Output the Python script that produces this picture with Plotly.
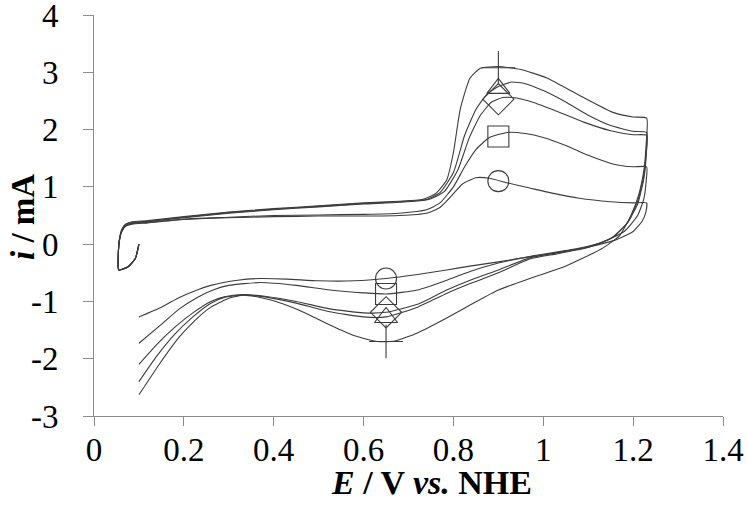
import plotly.graph_objects as go

# ---- data (E in V vs NHE, i in mA) ----
circle_E = [0.1, 0.092, 0.075, 0.055, 0.054, 0.057, 0.062, 0.07, 0.085, 0.12, 0.2, 0.3, 0.4, 0.5, 0.6, 0.68, 0.74, 0.77, 0.8, 0.82, 0.85, 0.88, 0.92, 0.97, 1.02, 1.08, 1.15, 1.2, 1.23,
            1.228, 1.22, 1.2, 1.16, 1.1, 1.04, 0.97, 0.9, 0.84, 0.785, 0.72, 0.65, 0.58, 0.5, 0.43, 0.37, 0.32, 0.26, 0.22, 0.19, 0.15, 0.1]
circle_I = [0.0, -0.25, -0.4, -0.45, -0.2, 0.08, 0.22, 0.31, 0.35, 0.37, 0.43, 0.46, 0.48, 0.49, 0.49, 0.5, 0.54, 0.64, 0.88, 1.05, 1.16, 1.15, 1.07, 0.98, 0.89, 0.8, 0.74, 0.72, 0.72,
            0.55, 0.4, 0.22, 0.07, -0.05, -0.14, -0.22, -0.31, -0.38, -0.45, -0.53, -0.6, -0.64, -0.64, -0.61, -0.6, -0.63, -0.72, -0.83, -0.93, -1.1, -1.27]

square_E = [0.1, 0.092, 0.075, 0.055, 0.054, 0.057, 0.062, 0.07, 0.085, 0.12, 0.2, 0.3, 0.4, 0.5, 0.6, 0.68, 0.74, 0.77, 0.8, 0.825, 0.85, 0.88, 0.92, 0.96, 1.0, 1.05, 1.1, 1.155, 1.2, 1.23,
            1.229, 1.224, 1.21, 1.18, 1.13, 1.06, 0.98, 0.9, 0.84, 0.785, 0.72, 0.65, 0.6, 0.525, 0.45, 0.37, 0.3, 0.265, 0.23, 0.19, 0.15, 0.1]
square_I = [0.0, -0.25, -0.4, -0.45, -0.2, 0.08, 0.23, 0.32, 0.36, 0.38, 0.44, 0.47, 0.5, 0.51, 0.52, 0.54, 0.6, 0.72, 1.0, 1.35, 1.65, 1.86, 1.95, 1.93, 1.86, 1.72, 1.55, 1.4, 1.35, 1.35,
            1.1, 0.8, 0.5, 0.22, 0.03, -0.1, -0.2, -0.33, -0.47, -0.63, -0.8, -0.87, -0.85, -0.8, -0.72, -0.67, -0.72, -0.8, -0.93, -1.13, -1.4, -1.73]

triangle_E = [0.1, 0.092, 0.075, 0.055, 0.054, 0.057, 0.062, 0.07, 0.085, 0.12, 0.2, 0.3, 0.4, 0.5, 0.6, 0.68, 0.74, 0.77, 0.8, 0.825, 0.85, 0.875, 0.9, 0.93, 0.96, 1.0, 1.05, 1.1, 1.15, 1.2, 1.23,
              1.229, 1.224, 1.21, 1.19, 1.155, 1.1, 1.03, 0.97, 0.9, 0.84, 0.785, 0.72, 0.65, 0.6, 0.525, 0.45, 0.38, 0.33, 0.29, 0.26, 0.22, 0.18, 0.14, 0.1]
triangle_I = [0.0, -0.25, -0.4, -0.45, -0.2, 0.1, 0.25, 0.34, 0.38, 0.4, 0.47, 0.55, 0.61, 0.66, 0.71, 0.74, 0.78, 0.9, 1.25, 1.9, 2.35, 2.62, 2.75, 2.83, 2.8, 2.68, 2.48, 2.25, 2.07, 1.97, 1.95,
              1.6, 1.2, 0.75, 0.4, 0.12, -0.06, -0.17, -0.26, -0.5, -0.68, -0.86, -1.1, -1.27, -1.27, -1.18, -1.03, -0.92, -0.89, -0.93, -1.03, -1.27, -1.57, -1.95, -2.4]

diamond_E = [0.1, 0.092, 0.075, 0.055, 0.054, 0.057, 0.062, 0.07, 0.085, 0.12, 0.2, 0.3, 0.4, 0.5, 0.6, 0.68, 0.745, 0.78, 0.81, 0.835, 0.86, 0.885, 0.91, 0.94, 0.98, 1.03, 1.09, 1.15, 1.2, 1.23,
             1.229, 1.224, 1.21, 1.185, 1.15, 1.1, 1.03, 0.97, 0.9, 0.84, 0.785, 0.72, 0.65, 0.6, 0.525, 0.45, 0.38, 0.33, 0.29, 0.26, 0.22, 0.18, 0.14, 0.1]
diamond_I = [0.0, -0.25, -0.4, -0.45, -0.2, 0.1, 0.24, 0.33, 0.37, 0.39, 0.46, 0.54, 0.6, 0.65, 0.7, 0.73, 0.78, 0.92, 1.3, 1.85, 2.25, 2.48, 2.56, 2.55, 2.47, 2.32, 2.13, 1.98, 1.91, 1.9,
             1.55, 1.15, 0.7, 0.35, 0.1, -0.05, -0.15, -0.24, -0.45, -0.62, -0.8, -1.05, -1.19, -1.2, -1.13, -1.0, -0.91, -0.88, -0.92, -1.0, -1.2, -1.45, -1.75, -2.1]

plus_E = [0.1, 0.092, 0.075, 0.055, 0.054, 0.057, 0.062, 0.07, 0.085, 0.12, 0.2, 0.3, 0.4, 0.5, 0.6, 0.68, 0.73, 0.76, 0.785, 0.8, 0.815, 0.837, 0.86, 0.9, 0.95, 1.008, 1.08, 1.155, 1.2, 1.23,
          1.229, 1.224, 1.212, 1.195, 1.17, 1.13, 1.045, 0.97, 0.9, 0.84, 0.785, 0.72, 0.67, 0.63, 0.58, 0.525, 0.47, 0.42, 0.37, 0.33, 0.295, 0.26, 0.225, 0.19, 0.145, 0.1]
plus_I = [0.0, -0.25, -0.4, -0.45, -0.2, 0.1, 0.26, 0.35, 0.39, 0.41, 0.48, 0.56, 0.62, 0.67, 0.72, 0.75, 0.78, 0.88, 1.12, 1.6, 2.35, 2.9, 3.07, 3.1, 3.05, 2.9, 2.6, 2.3, 2.22, 2.2,
          1.75, 1.3, 0.85, 0.5, 0.15, -0.08, -0.4, -0.6, -0.8, -1.05, -1.29, -1.55, -1.69, -1.7, -1.6, -1.41, -1.2, -1.04, -0.93, -0.89, -0.96, -1.1, -1.33, -1.62, -2.1, -2.63]

marker_E = [0.9, 0.65]
circle_M = [1.1, -0.6]
square_M = [1.88, -0.87]
triangle_M = [2.72, -1.28]
diamond_M = [2.53, -1.19]
plus_M = [3.08, -1.7]

x_ticks = [0, 0.2, 0.4, 0.6, 0.8, 1.0, 1.2, 1.4]
x_labels = ["0", "0.2", "0.4", "0.6", "0.8", "1", "1.2", "1.4"]
y_ticks = [-3, -2, -1, 0, 1, 2, 3, 4]
y_labels = ["-3", "-2", "-1", "0", "1", "2", "3", "4"]

LINE = "#3c3c3c"
AX = "#8c8c8c"

series = [
    (circle_E, circle_I, circle_M, "circle-open", 21),
    (square_E, square_I, square_M, "square-open", 21),
    (triangle_E, triangle_I, triangle_M, "triangle-up-open", 20),
    (diamond_E, diamond_I, diamond_M, "diamond-open", 24),
    (plus_E, plus_I, plus_M, "cross-thin-open", 24),
]

fig = go.Figure()
for E, I, M, sym, sz in series:
    fig.add_trace(go.Scatter(x=E, y=I, mode="lines",
                             line=dict(color=LINE, width=1.1, shape="spline", smoothing=0.5),
                             showlegend=False, hoverinfo="skip"))
for E, I, M, sym, sz in series:
    fig.add_trace(go.Scatter(x=marker_E, y=M, mode="markers",
                             marker=dict(symbol=sym, size=sz, color=LINE,
                                         line=dict(color=LINE, width=1.1)),
                             showlegend=False, hoverinfo="skip"))

tickfont = dict(family="Liberation Serif", size=33, color="black")
fig.update_xaxes(range=[0, 1.4], tickvals=x_ticks, ticktext=x_labels,
                 showline=True, linecolor=AX, linewidth=1, ticks="outside",
                 ticklen=9, tickcolor=AX, tickwidth=1, showgrid=False, zeroline=False,
                 tickfont=tickfont, ticklabelstandoff=-5, ticklabeloverflow="allow",
                 automargin=False)
fig.update_yaxes(range=[-3, 4], tickvals=y_ticks, ticktext=y_labels,
                 showline=True, linecolor=AX, linewidth=1, ticks="outside",
                 ticklen=10, tickcolor=AX, tickwidth=1, showgrid=False, zeroline=False,
                 tickfont=tickfont, ticklabelstandoff=18, ticklabeloverflow="allow",
                 automargin=False)

fig.update_layout(
    width=747, height=512,
    margin=dict(l=94, r=24, t=15, b=96, autoexpand=False),
    paper_bgcolor="white", plot_bgcolor="white",
    annotations=[
        dict(text="<b><i>E</i> / V <i>vs.</i> NHE</b>", xref="paper", yref="paper",
             x=0.536, y=-0.165, xanchor="center", yanchor="middle", showarrow=False,
             font=dict(family="Liberation Serif", size=34, color="black")),
        dict(text="<b><i>i</i> / mA</b>", xref="paper", yref="paper",
             x=-0.113, y=0.496, xanchor="center", yanchor="middle", showarrow=False,
             textangle=-90,
             font=dict(family="Liberation Serif", size=33, color="black")),
    ],
)

fig.write_html("out.html")
